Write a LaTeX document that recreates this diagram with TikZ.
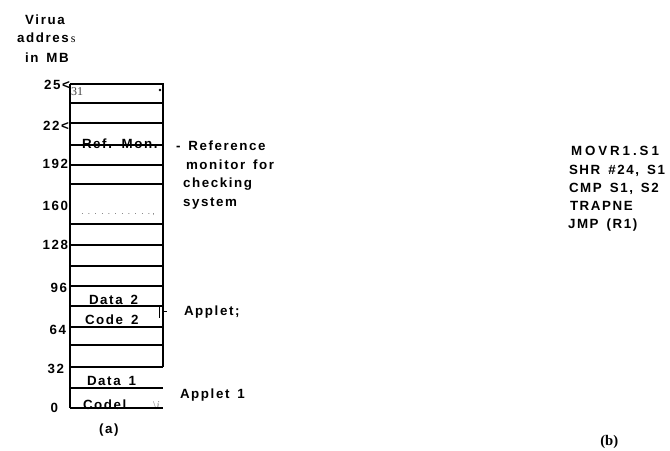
\documentclass[tikz,border=0pt]{standalone}
\usepackage{fontspec}
\setmainfont{Liberation Sans}
\newfontfamily\labfont[LetterSpace=12,WordSpace=1.5]{Liberation Sans}
\newfontfamily\codefont[LetterSpace=22,WordSpace=1.3]{Liberation Sans}
\newfontfamily\serffont{Liberation Serif}
\begin{document}
\begin{tikzpicture}[x=0.75pt,y=-0.75pt,
  lab/.style={anchor=base west,inner sep=0pt,outer sep=0pt,font=\labfont\bfseries\fontsize{10}{12}\selectfont},
  num/.style={anchor=base east,inner sep=0pt,outer sep=0pt,font=\labfont\bfseries\fontsize{10}{12}\selectfont},
  code/.style={anchor=base west,inner sep=0pt,outer sep=0pt,font=\codefont\bfseries\fontsize{10}{12}\selectfont},
  serf/.style={anchor=base west,inner sep=0pt,outer sep=0pt,font=\serffont\fontsize{9}{10}\selectfont},
  rule/.style={line width=0.9pt}]
\useasboundingbox (0,0) rectangle (670,450);
% heading
\node[lab,anchor=base] (h1) at (45,24) {Virua};
\node[lab] (h2) at (17,42) {addres\,{\serffont\mdseries\fontsize{9}{10}\selectfont s}};
\node[lab] (h3) at (25,62) {in MB};
% address labels
\node[num] (n25) at (70,89) {25<};
\node[num] (n22) at (69,130) {22<};
\node[num] (n192) at (68,168) {192};
\node[num] (n160) at (68,210) {160};
\node[num] (n128) at (68,249) {128};
\node[num] (n96) at (67,292) {96};
\node[num] (n64) at (66,334) {64};
\node[num] (n32) at (64,373) {32};
\node[num] (n0) at (58,412) {0};
% texts inside
\node[serf,text=black!75] (t31) at (71,95) {31};
\fill (160,90) circle (1.4);
\node[lab] (refmon) at (82,148) {Ref. Mon.};
\node[anchor=base west,inner sep=0pt,font=\fontsize{6}{7}\selectfont,text=black!70] (dots) at (81,214) {.\ \ .\ \ .\ \ .\ \ .\ \ .\ \ .\ \ .\ \ .\ \ .\ \ .\ ,};
\node[lab] (d2) at (89,304) {Data 2};
\node[lab] (c2) at (85,324) {Code 2};
\node[lab] (d1) at (87,385) {Data 1};
\node[lab] (c1) at (83,409) {Codel};
\node[serf,text=black!45] (bi) at (153,409) {\textbackslash\textit{i}};
% box
\draw[rule] (70,84) -- (163,84) -- (163,367);
\draw[rule] (70,84) -- (70,408);
\foreach \yy in {103,123,145,165,184,224,245,266,286,306,327,345,367}
  \draw[rule] (70,\yy) -- (163,\yy);
\draw[rule] (70,388) -- (163,388);
\draw[rule] (70,408) -- (163,408);
% right labels
\node[lab] (r1) at (176,150) {- Reference};
\node[lab] (r2) at (186,169) {monitor for};
\node[lab] (r3) at (183,187) {checking};
\node[lab] (r4) at (183,206) {system};
\draw[line width=0.5pt] (159,306) -- (159,318);
\draw[line width=0.6pt] (164,311) -- (167,311);
\node[lab] (ap2) at (184,315) {Applet;};
\node[lab] (ap1) at (180,398) {Applet 1};
\node[lab] (capa) at (99,433) {(a)};
% code
\node[code] (k1) at (571,155) {MOVR1.S1};
\node[lab] (k2) at (569,174) {SHR \#24, S1};
\node[lab] (k3) at (569,192) {CMP S1, S2};
\node[lab] (k4) at (570,210) {TRAPNE};
\node[lab] (k5) at (568,228) {JMP (R1)};
\node[anchor=base west,inner sep=0pt,font=\serffont\bfseries\fontsize{11}{12}\selectfont] (capb) at (600,445) {(b)};
\end{tikzpicture}
\end{document}
